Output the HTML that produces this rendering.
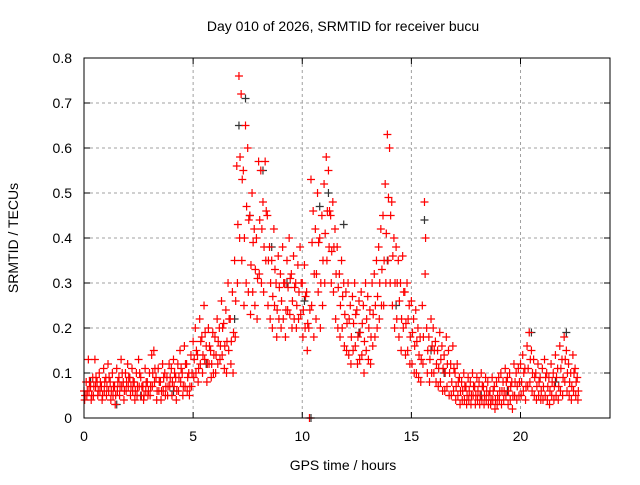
<!DOCTYPE html>
<html><head><meta charset="utf-8"><style>
body{margin:0;background:#fff}
svg text{font-family:"Liberation Sans",sans-serif;font-size:14px;fill:#000}
</style></head><body>
<svg id="c" width="640" height="480" xmlns="http://www.w3.org/2000/svg">
<rect width="640" height="480" fill="#fff"/>
<text x="343" y="31" text-anchor="middle">Day 010 of 2026, SRMTID for receiver bucu</text>
<text x="343" y="470" text-anchor="middle">GPS time / hours</text>
<text transform="translate(18,238) rotate(-90)" text-anchor="middle">SRMTID / TECUs</text>
<g id="grid"></g>
<g id="marks"></g>
<rect x="84" y="58" width="526" height="360" fill="none" stroke="#000" stroke-width="1"/>
</svg>
<script>
const xTicks=[0,5,10,15,20];
const yTicks=[0,0.1,0.2,0.3,0.4,0.5,0.6,0.7,0.8];
const yTickLabels=["0","0.1","0.2","0.3","0.4","0.5","0.6","0.7","0.8"];
const redT=[0,.1,.2,.3,.4,.5,.6,.7,.8,.9,1,1.1,1.2,1.3,1.4,1.5,1.6,1.7,1.8,1.9,2,2.1,2.2,2.3,2.4,2.5,2.6,2.7,2.8,2.9,3,3.1,3.2,3.3,3.4,3.5,3.6,3.7,3.8,3.9,4,4.1,4.2,4.3,4.4,4.5,4.6,4.7,4.8,4.9,5,5.1,5.2,5.3,5.4,5.5,5.6,5.7,5.8,5.9,6,6.1,6.2,6.3,6.4,6.5,6.6,6.7,6.8,6.9,7,7.1,7.2,7.3,7.4,7.5,7.6,7.7,7.8,7.9,8,8.1,8.2,8.3,8.4,8.5,8.6,8.7,8.8,8.9,9,9.1,9.2,9.3,9.4,9.5,9.6,9.7,9.8,9.9,10,10.1,10.2,10.3,10.4,10.5,10.6,10.7,10.8,10.9,11,11.1,11.2,11.3,11.4,11.5,11.6,11.7,11.8,11.9,12,12.1,12.2,12.3,12.4,12.5,12.6,12.7,12.8,12.9,13,13.1,13.2,13.3,13.4,13.5,13.6,13.7,13.8,13.9,14,14.1,14.2,14.3,14.4,14.5,14.6,14.7,14.8,14.9,15,15.1,15.2,15.3,15.4,15.5,15.6,15.7,15.8,15.9,16,16.1,16.2,16.3,16.4,16.5,16.6,16.7,16.8,16.9,17,17.1,17.2,17.3,17.4,17.5,17.6,17.7,17.8,17.9,18,18.1,18.2,18.3,18.4,18.5,18.6,18.7,18.8,18.9,19,19.1,19.2,19.3,19.4,19.5,19.6,19.7,19.8,19.9,20,20.1,20.2,20.3,20.4,20.5,20.6,20.7,20.8,20.9,21,21.1,21.2,21.3,21.4,21.5,21.6,21.7,21.8,21.9,22,22.1,22.2,22.3,22.4,22.5,22.6];
const redHi=[.06,.08,.13,.07,.09,.13,.08,.1,.07,.11, .09,.12,.08,.1,.07,.11,.09,.13,.08,.1, .12,.09,.11,.08,.1,.13,.09,.07,.11,.08, .1,.14,.15,.09,.11,.08,.12,.1,.09,.12, .11,.13,.09,.12,.15,.1,.16,.12,.1,.14, .17,.2,.14,.22,.18,.25,.16,.2,.15,.19, .18,.22,.2,.26,.21,.24,.3,.22,.28,.35, .56,.76,.72,.55,.65,.6,.45,.5,.42,.4, .57,.55,.48,.57,.45,.38,.35,.42,.3,.36, .32,.38,.3,.35,.4,.32,.36,.3,.34,.38, .3,.34,.28,.2,.53,.46,.42,.5,.4,.45, .52,.58,.55,.45,.48,.42,.38,.32,.35,.3, .28,.3,.25,.27,.3,.24,.26,.28,.25,.3, .27,.24,.3,.32,.35,.38,.42,.45,.52,.63, .6,.48,.4,.38,.35,.3,.36,.28,.3,.25, .26,.22,.24,.2,.18,.25,.48,.2,.18,.22, .2,.17,.15,.19,.16,.14,.18,.15,.12,.16, .1,.12,.09,.08,.1,.07,.09,.08,.1,.07, .09,.08,.1,.07,.09,.08,.06,.09,.07,.08, .09,.1,.08,.11,.09,.1,.08,.12,.1,.11, .12,.14,.11,.16,.19,.15,.13,.1,.12,.09, .11,.13,.1,.09,.12,.1,.14,.11,.16,.13, .18,.15,.12,.1,.14,.11,.09];
const redMid=[.05,.06,.08,.05,.07,.09,.06,.08,.05,.08, .07,.09,.06,.07,.05,.08,.07,.1,.06,.08, .09,.07,.08,.06,.07,.1,.07,.05,.08,.06, .07,.1,.11,.06,.08,.06,.09,.07,.07,.09, .08,.1,.06,.09,.11,.07,.12,.09,.07,.1, .13,.15,.11,.17,.14,.19,.12,.16,.12,.14, .14,.17,.16,.2,.16,.17,.22,.17,.19,.26, .43,.58,.53,.4,.47,.44,.34,.39,.33,.31, .44,.42,.38,.46,.35,.3,.27,.33,.24,.29, .26,.3,.24,.29,.31,.26,.29,.25,.28,.3, .24,.27,.21,.24,.39,.32,.32,.39,.3,.35, .41,.46,.46,.37,.38,.32,.29,.25,.27,.23, .21,.22,.18,.21,.23,.18,.19,.21,.17,.22, .2,.18,.23,.25,.27,.3,.33,.35,.41,.49, .45,.36,.3,.3,.26,.22,.28,.21,.22,.18, .19,.16,.17,.14,.13,.18,.4,.15,.13,.16, .15,.12,.11,.13,.11,.1,.12,.1,.08,.11, .07,.08,.06,.06,.07,.05,.06,.05,.07,.05, .06,.05,.07,.05,.06,.05,.04,.06,.04,.05, .06,.06,.06,.08,.06,.07,.05,.08,.07,.08, .08,.1,.07,.11,.13,.1,.09,.07,.08,.06, .07,.09,.07,.06,.08,.07,.09,.07,.11,.09, .13,.1,.08,.07,.1,.08,.06];
const redLo=[.04,.05,.06,.04,.05,.07,.05,.06,.04,.06, .05,.06,.04,.05,.03,.06,.05,.07,.04,.06, .07,.05,.06,.04,.05,.07,.05,.04,.06,.05, .05,.07,.08,.04,.06,.04,.06,.05,.05,.07, .05,.07,.04,.06,.08,.05,.07,.06,.05,.07, .09,.1,.08,.12,.1,.13,.08,.12,.09,.1, .1,.12,.13,.14,.11,.1,.15,.12,.1,.18, .3,.4,.35,.25,.3,.28,.23,.28,.25,.22, .32,.3,.28,.35,.25,.22,.2,.25,.18,.22, .2,.22,.18,.24,.23,.2,.22,.2,.22,.23, .18,.2,.15,0,.25,.18,.22,.28,.2,.25, .3,.35,.38,.3,.28,.22,.2,.18,.2,.16, .15,.14,.12,.15,.16,.12,.13,.14,.1,.15, .13,.12,.16,.18,.2,.22,.25,.25,.3,.35, .3,.25,.2,.22,.18,.15,.2,.14,.15,.12, .12,.1,.1,.09,.08,.12,.32,.1,.08,.1, .1,.08,.07,.08,.06,.06,.07,.05,.05,.06, .04,.05,.03,.04,.04,.03,.04,.03,.05,.03, .04,.03,.04,.03,.04,.03,.03,.04,.02,.03, .04,.03,.04,.05,.03,.04,.02,.05,.04,.05, .05,.06,.04,.07,.08,.06,.05,.04,.05,.04, .04,.05,.04,.03,.05,.04,.05,.04,.06,.05, .08,.06,.05,.04,.06,.05,.04];
const blackT=[.3,1.5,2.6,4.1,5.6,6.9,7.1,7.4,7.6,8.2,8.6,9.3,10.1,10.4,10.8,11.2,11.9,12.6,13.9,14.3,15.6,15.9,16.5,18.2,19.4,20.5,21.6,22.1];
const blackV=[.08,.03,.05,.06,.12,.22,.65,.71,.45,.55,.38,.3,.26,0,.47,.5,.43,.19,.35,.25,.44,.15,.1,.05,.06,.19,.08,.19];
const X0=84,X1=610,Y0=418,Y1=58;
const xs=h=>X0+h*(X1-X0)/24.1;
const ys=v=>Y0-v*(Y0-Y1)/0.8;
const NS="http://www.w3.org/2000/svg";
const svg=document.getElementById('c'),grid=document.getElementById('grid'),marks=document.getElementById('marks');
function mk(tag,attrs,parent){const e=document.createElementNS(NS,tag);for(const k in attrs)e.setAttribute(k,attrs[k]);parent.appendChild(e);return e;}
xTicks.forEach((t,i)=>{const x=xs(t);
 if(t>0){const g=mk('line',{x1:x,x2:x,y1:Y1,y2:Y0,stroke:'#a0a0a0','stroke-dasharray':'3,3'},grid);
 
 }
 const a=mk('line',{x1:x,x2:x,y1:Y0,y2:Y0-6,stroke:'#000'},grid);
 
 
 const b=mk('line',{x1:x,x2:x,y1:Y1,y2:Y1+6,stroke:'#000'},grid);
 
 
 const l=mk('text',{x:x,y:Y0+23,'text-anchor':'middle'},svg);l.textContent=String(t);
 
 });
yTicks.forEach((t,i)=>{const y=ys(t);
 if(t>0&&t<0.8){const g=mk('line',{x1:X0,x2:X1,y1:y,y2:y,stroke:'#a0a0a0','stroke-dasharray':'3,3'},grid);
 
 }
 const a=mk('line',{x1:X0,x2:X0+6,y1:y,y2:y,stroke:'#000'},grid);
 
 
 const b=mk('line',{x1:X1,x2:X1-6,y1:y,y2:y,stroke:'#000'},grid);
 
 
 const l=mk('text',{x:X0-12,y:y+5,'text-anchor':'end'},svg);l.textContent=yTickLabels[i];
 
 });
function plus(t,v,color,name){const x=xs(t),y=ys(v);
 const p=mk('path',{d:`M${x-4},${y}h8M${x},${y-4}v8`,stroke:color,'stroke-width':1.2,fill:'none'},marks);
 
 }
blackT.forEach((t,i)=>plus(t,blackV[i],'#333','black-point'));
redT.forEach((t,i)=>{plus(t,redHi[i],'#f00','red-point');plus(t+0.05,redMid[i],'#f00','red-point');plus(t+0.03,redLo[i],'#f00','red-point');});
</script>
</body></html>
